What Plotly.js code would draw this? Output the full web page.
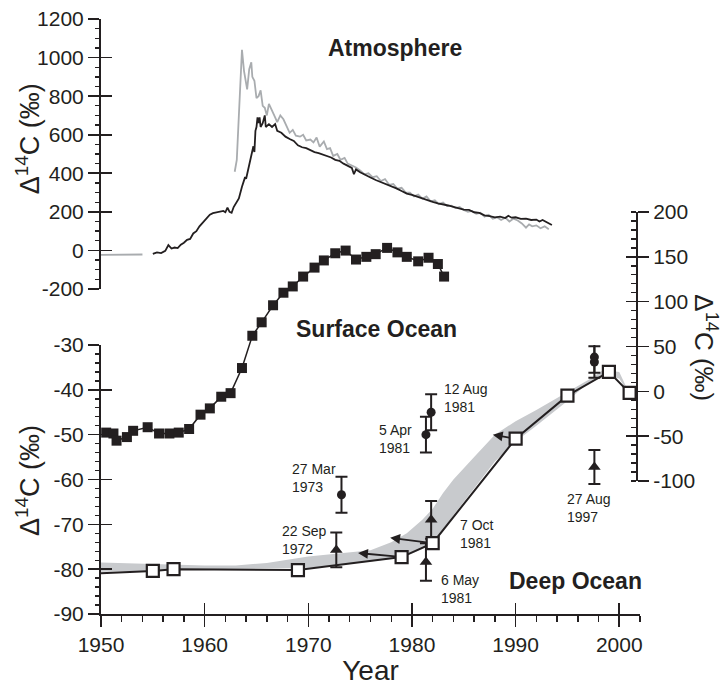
<!DOCTYPE html>
<html><head><meta charset="utf-8">
<script src="https://cdn.plot.ly/plotly-3.0.1.min.js"></script>
<style>html,body{margin:0;padding:0;background:#fff}#chart{width:725px;height:686px}</style>
</head><body><div id="chart"></div>
<script>
// ---------- Atmosphere (left top axis) ----------
const atmGrayYear = [1950,1951,1952,1953,1954,1958,
 1962.9,1963.1,1963.3,1963.5,1963.6,1963.8,1964.0,1964.1,1964.3,1964.5,1964.6,1964.8,1965.0,1965.2,1965.4,1965.6,1965.8,
 1966.0,1966.2,1966.5,1966.8,1967.0,1967.3,1967.6,1967.9,1968.2,1968.5,1968.8,1969.2,1969.5,1969.8,1970.2,1970.5,1970.8,
 1971.1,1971.5,1971.8,1972.1,1972.4,1972.8,1973.1,1973.5,1973.8,1974.2,1974.6,1975.0,1975.4,1975.8,1976.2,1976.6,1977.0,
 1977.4,1977.8,1978.2,1978.6,1979.0,1979.4,1979.8,1980.2,1980.6,1981.0,1981.4,1981.8,1982.2,1982.6,1983.0,1983.4,1983.8,
 1984.2,1984.6,1985.0,1985.4,1985.8,1986.2,1986.6,1987.0,1987.4,1987.8,1988.2,1988.6,1989.0,1989.4,1989.8,1990.2,1990.6,
 1991.0,1991.3,1991.6,1992.0,1992.4,1992.8,1993.2];
const atmGrayVal = [-23,-22,-23,-22,-21,null,
 408,470,700,900,1040,930,850,835,940,975,900,880,790,800,830,750,740,
 700,760,720,690,665,700,680,640,610,625,595,590,600,570,575,560,585,
 538,565,525,530,490,500,470,480,450,440,430,415,395,400,380,385,360,
 370,340,345,320,325,300,300,280,290,268,280,255,260,240,248,230,232,
 220,225,210,200,205,190,195,175,185,165,172,158,170,150,165,155,140,
 118,135,125,130,115,125,110];

const atmBlackYear = [1955.0,1955.4,1955.8,1956.2,1956.5,1956.8,1957.1,1957.4,1957.7,1958.0,1958.3,1958.6,1958.9,1959.2,1959.5,1959.9,
 1960.2,1960.5,1960.8,1961.2,1961.5,1961.8,1962.0,1962.2,1962.4,1962.6,1962.8,1963.0,1963.3,1963.6,1963.9,1964.0,1964.2,1964.5,
 1964.7,1964.8,1964.9,1965.0,1965.1,1965.2,1965.3,1965.4,1965.6,1965.8,1965.9,1966.2,1966.5,1966.8,1967.0,1967.4,1967.8,1968.2,
 1968.6,1969.0,1969.4,1969.8,1970.2,1970.6,1971.0,1971.4,1971.8,1972.2,1972.6,1973.0,1973.4,1973.8,1974.2,1974.4,1974.6,1975.0,
 1975.5,1976.0,1976.5,1977.0,1977.5,1978.0,1978.5,1979.0,1979.5,1980.0,1980.5,1981.0,1981.5,1982.0,1982.5,1983.0,1983.5,1984.0,
 1984.5,1985.0,1985.5,1986.0,1986.5,1987.0,1987.5,1988.0,1988.5,1989.0,1989.3,1989.6,1990.0,1990.5,1991.0,1991.5,1992.0,1992.3,
 1992.6,1993.0,1993.3,1993.5];
const atmBlackVal = [-18,-10,-14,-2,28,10,15,12,30,40,55,60,88,100,125,150,
 170,185,193,198,200,205,198,222,200,195,225,245,270,330,380,372,420,480,
 540,510,620,640,690,660,690,640,660,700,640,655,640,655,620,610,590,578,
 568,545,535,530,518,510,505,498,488,482,470,465,450,440,428,395,420,405,
 390,378,365,355,345,332,322,308,295,288,278,270,262,252,244,240,233,226,
 218,212,210,198,195,182,178,172,175,168,180,170,172,164,165,158,160,150,
 158,145,138,132];

// ---------- Surface Ocean (right axis) ----------
const surfYear = [1950.5,1951.2,1951.5,1952.5,1953.1,1954.5,1955.6,1956.6,1957.5,1958.5,1959.6,1960.5,1961.6,1962.5,1963.6,
 1964.6,1965.5,1966.6,1967.6,1968.5,1969.5,1970.6,1971.5,1972.6,1973.6,1974.6,1975.6,1976.5,1977.6,1978.6,1979.5,1980.6,1981.6,1982.5,1983.1];
const surfVal = [-46,-47,-55,-51,-44,-40,-47,-47,-46,-42,-26,-19,-6,-2,26,
 62,77,96,110,117,128,138,146,154,157,147,150,153,160,155,150,145,149,142,128];

// ---------- Deep Ocean (left bottom axis) ----------
const deepYear = [1950, 1955, 1957, 1969, 1979, 1982, 1990, 1995, 1999, 2001];
const deepVal  = [-80.9, -80.4, -80.0, -80.2, -77.3, -74.2, -50.9, -41.3, -36.0, -40.7];

const bandYear  = [1950,1955,1960,1963,1966,1970,1973,1976,1978,1979.5,1981,1982,1983,1984,1986,1988,1990,1992,1995,1997,1998.5,2000,2000.8];
const bandUpper = [-78.5,-78.9,-79.2,-79.2,-78.6,-77.2,-76.5,-75.8,-74,-72,-69,-66.5,-63,-60,-55,-50,-47,-44.5,-40.5,-37.8,-35.5,-36,-40];
const bandLower = [-80.6,-80.4,-80.0,-79.9,-79.8,-79.7,-79,-78.3,-77.7,-77,-75.5,-74.3,-71.5,-68,-62,-56,-51.5,-48,-42.5,-38.5,-37,-37.5,-40.5];

const circYear = [1973.2, 1981.35, 1981.85, 1997.6, 1997.6];
const circVal  = [-63.4, -50.0, -45.0, -32.7, -33.8];
const circErr  = [4.0, 4.0, 4.0, 3.5, 3.5];

const triYear = [1972.7, 1981.85, 1981.35, 1997.6];
const triVal  = [-75.7, -69.0, -78.4, -57.2];
const triErr  = [3.9, 4.2, 4.2, 3.8];

// arrows start at deep-ocean squares (indices) and point back to these positions
const arrowFrom   = [4, 5, 6];
const arrowToYear = [1974.8, 1977.9, 1987.8];
const arrowToVal  = [-76.4, -73.0, -50.0];

const labelText = ['27 Mar<br>1973','22 Sep<br>1972','5 Apr<br>1981','12 Aug<br>1981','31 Aug 1997<br>30 Aug 1997','27 Aug<br>1997','7 Oct<br>1981','6 May<br>1981'];
const labelYear = [1968.25, 1967.3, 1976.6, 1982.9, 1990.9, 1994.8, 1984.4, 1982.6];
const labelVal  = [-59.6, -73.5, -50.9, -41.8, -24.8, -66.3, -72.1, -84.4];

// tick labels
const atmTicks  = [-200,0,200,400,600,800,1000,1200];
const atmLabels = ['-200','0','200','400','600','800','1000','1200'];
const surfTicks  = [-100,-50,0,50,100,150,200];
const surfLabels = ['-100','-50','0','50','100','150','200'];
const deepTicks  = [-90,-80,-70,-60,-50,-40,-30];
const deepLabels = ['-90','-80','-70','-60','-50','-40','-30'];

const K = '#231f20';
const GRAY = '#a9acaf';
const BAND = '#c8cacd';
const FONT = 'Liberation Sans, Arial, Helvetica, sans-serif';

const traces = [
  {x: atmGrayYear, y: atmGrayVal, xaxis:'x', yaxis:'y', mode:'lines', line:{color:GRAY, width:1.8}, connectgaps:false},
  {x: atmBlackYear, y: atmBlackVal, xaxis:'x', yaxis:'y', mode:'lines', line:{color:K, width:1.8}},
  {x: surfYear, y: surfVal, xaxis:'x', yaxis:'y2', mode:'lines+markers', line:{color:K, width:1.5},
   marker:{symbol:'square', size:10, color:K}},
  {x: bandYear.concat(bandYear.slice().reverse()), y: bandUpper.concat(bandLower.slice().reverse()),
   xaxis:'x', yaxis:'y3', mode:'lines', fill:'toself', fillcolor:BAND, line:{width:0, color:BAND}},
  {x: deepYear, y: deepVal, xaxis:'x', yaxis:'y3', mode:'lines', line:{color:K, width:2}},
  {x: circYear, y: circVal, xaxis:'x', yaxis:'y3', mode:'markers', marker:{symbol:'circle', size:9, color:K},
   error_y:{type:'data', array:circErr, visible:true, color:K, thickness:2, width:6}},
  {x: triYear, y: triVal, xaxis:'x', yaxis:'y3', mode:'markers', marker:{symbol:'triangle-up', size:11, color:K},
   error_y:{type:'data', array:triErr, visible:true, color:K, thickness:2, width:6}},
  {x: deepYear.slice(1), y: deepVal.slice(1), xaxis:'x', yaxis:'y3', mode:'markers',
   marker:{symbol:'square', size:12, color:'#ffffff', line:{color:K, width:2.2}}},
  // empty traces so that the overlay axes (inner half of crossing ticks) are drawn
  {x: [], y: [], xaxis:'x2', yaxis:'y3', mode:'markers'},
  {x: [], y: [], xaxis:'x', yaxis:'y4', mode:'markers'},
  {x: [], y: [], xaxis:'x', yaxis:'y5', mode:'markers'},
  {x: [], y: [], xaxis:'x', yaxis:'y6', mode:'markers'}
];

const annotations = [];
for (let i = 0; i < arrowFrom.length; i++) {
  annotations.push({xref:'x', yref:'y3', axref:'x', ayref:'y3', x: arrowToYear[i], y: arrowToVal[i],
    ax: deepYear[arrowFrom[i]], ay: deepVal[arrowFrom[i]], text:'', showarrow:true,
    arrowhead:2, arrowsize:1.1, arrowwidth:1.8, arrowcolor:K, standoff:0, startstandoff:5});
}
for (let i = 0; i < labelText.length; i++) {
  annotations.push({xref:'x', yref:'y3', x: labelYear[i], y: labelVal[i], text: labelText[i], showarrow:false,
    xanchor:'left', yanchor:'middle', align:'left', font:{family:FONT, size:14, color:K}});
}
const bold = (t, x, y) => ({xref:'paper', yref:'paper', x, y, text:'<b>'+t+'</b>', showarrow:false,
  xanchor:'center', yanchor:'middle', font:{family:FONT, size:23, color:K}});
annotations.push(bold('Atmosphere', 0.5455, 0.951));
annotations.push(bold('Surface Ocean', 0.512, 0.479));
annotations.push(bold('Deep Ocean', 0.881, 0.0555));
const ytitle = 'Δ<sup>14</sup>C (‰)';
annotations.push({xref:'paper', yref:'paper', x:-0.1354, y:0.798, text:ytitle, textangle:-90, showarrow:false,
  xanchor:'center', yanchor:'middle', font:{family:FONT, size:27, color:K}});
annotations.push({xref:'paper', yref:'paper', x:-0.1354, y:0.2235, text:ytitle, textangle:-90, showarrow:false,
  xanchor:'center', yanchor:'middle', font:{family:FONT, size:27, color:K}});
annotations.push({xref:'paper', yref:'paper', x:1.122, y:0.447, text:ytitle, textangle:90, showarrow:false,
  xanchor:'center', yanchor:'middle', font:{family:FONT, size:26, color:K}});

const baseY = {showline:true, linecolor:K, linewidth:2, ticks:'outside', ticklen:11, tickwidth:1.6, tickcolor:K,
  tickfont:{family:FONT, size:21, color:K}, showgrid:false, zeroline:false, tickmode:'array', fixedrange:true};
const overY = {showline:false, ticks:'inside', ticklen:11, tickwidth:1.6, tickcolor:K, showticklabels:false,
  showgrid:false, zeroline:false, tickmode:'array', fixedrange:true};

const layout = {
  width:725, height:686, margin:{l:101, r:85, t:19, b:72}, paper_bgcolor:'#fff', plot_bgcolor:'rgba(0,0,0,0)',
  showlegend:false, hovermode:false, font:{family:FONT, color:K},
  xaxis:{domain:[0,1], range:[1950,2002], anchor:'y3', showline:true, linecolor:K, linewidth:2,
    ticks:'outside', ticklen:11, tickwidth:1.6, tickcolor:K, tickmode:'linear', tick0:1950, dtick:10,
    tickfont:{family:FONT, size:21, color:K}, showgrid:false, zeroline:false, fixedrange:true,
    minor:{ticks:'outside', tickmode:'linear', tick0:1950, dtick:2, ticklen:6, tickwidth:1.4, tickcolor:K, showgrid:false},
    title:{text:'Year', font:{family:FONT, size:28, color:K}, standoff:8}},
  xaxis2:{overlaying:'x', anchor:'y3', range:[1950,2002], showline:false, ticks:'inside', ticklen:11, tickwidth:1.6,
    tickcolor:K, tickmode:'linear', tick0:1950, dtick:10, showticklabels:false, showgrid:false, zeroline:false, fixedrange:true},
  yaxis:Object.assign({}, baseY, {domain:[0.5462,1], range:[-200,1200], anchor:'x', side:'left',
    tickvals:atmTicks, ticktext:atmLabels,
    minor:{ticks:'outside', tickmode:'linear', tick0:0, dtick:50, ticklen:4, tickwidth:1.4, tickcolor:K, showgrid:false}}),
  yaxis4:Object.assign({}, overY, {overlaying:'y', range:[-200,1200], anchor:'x', side:'left', tickvals:atmTicks}),
  yaxis2:Object.assign({}, baseY, {domain:[0.2235,0.6756], range:[-100,200], anchor:'free', position:0.9944, side:'right',
    tickvals:surfTicks, ticktext:surfLabels,
    minor:{ticks:'inside', tickmode:'linear', tick0:0, dtick:10, ticklen:5, tickwidth:1.4, tickcolor:K, showgrid:false}}),
  yaxis5:Object.assign({}, overY, {overlaying:'y2', range:[-100,200], anchor:'free', position:0.9944, side:'right', tickvals:surfTicks}),
  yaxis3:Object.assign({}, baseY, {domain:[0,0.4521], range:[-90,-30], anchor:'x', side:'left',
    tickvals:deepTicks, ticktext:deepLabels,
    minor:{ticks:'outside', tickmode:'linear', tick0:-90, dtick:2, ticklen:4, tickwidth:1.4, tickcolor:K, showgrid:false}}),
  yaxis6:Object.assign({}, overY, {overlaying:'y3', range:[-90,-30], anchor:'x', side:'left', tickvals:deepTicks}),
  annotations: annotations
};

Plotly.newPlot('chart', traces, layout, {displayModeBar:false, staticPlot:true});
</script>
</body></html>
